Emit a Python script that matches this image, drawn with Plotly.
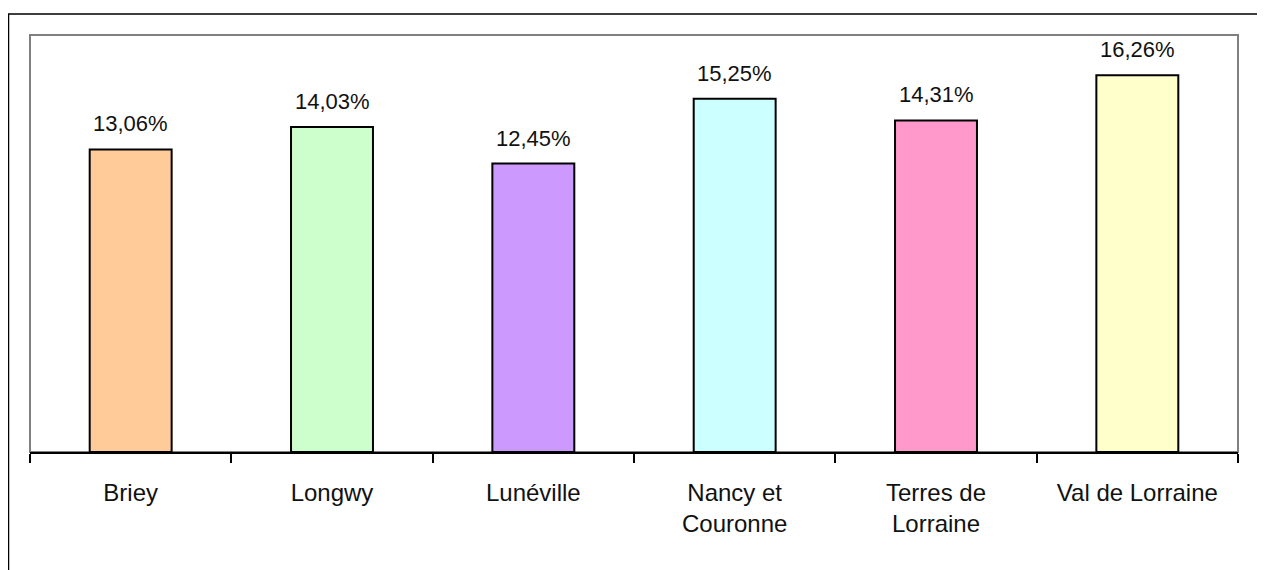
import plotly.graph_objects as go

categories = ["Briey", "Longwy", "Lunéville", "Nancy et<br>Couronne", "Terres de<br>Lorraine", "Val de Lorraine"]
values = [13.06, 14.03, 12.45, 15.25, 14.31, 16.26]
value_labels = ["13,06%", "14,03%", "12,45%", "15,25%", "14,31%", "16,26%"]
bar_colors = ["#FFCC99", "#CCFFCC", "#CC99FF", "#CCFFFF", "#FF99CC", "#FFFFCC"]

FONT = "Liberation Sans, Arial, sans-serif"

fig = go.Figure()
fig.add_trace(go.Bar(
    x=categories, y=values,
    marker=dict(color=bar_colors, line=dict(color="black", width=2)),
    hoverinfo="skip",
))

for c, v, t in zip(categories, values, value_labels):
    fig.add_annotation(x=c, y=v, text=t, showarrow=False, yanchor="bottom",
                       yshift=11, font=dict(family=FONT, size=22, color="#111"))

# plot area gray frame
fig.add_shape(type="rect", xref="paper", yref="paper", x0=0, x1=1, y0=0, y1=1,
              line=dict(color="#808080", width=2), layer="below")
# outer black frame (bottom edge lies below the visible page)
fig.add_shape(type="rect", xref="paper", yref="paper", x0=-0.0178, x1=1.0182,
              y0=-0.32, y1=1.0504, line=dict(color="black", width=1.5), layer="below")

fig.update_layout(
    width=1257, height=562,
    margin=dict(l=22, r=27, t=27, b=118),
    paper_bgcolor="white", plot_bgcolor="white",
    bargap=0.593, showlegend=False,
    font=dict(family=FONT, size=24, color="#111"),
    xaxis=dict(showline=True, linecolor="black", linewidth=1.5,
               ticks="outside", tickson="boundaries", ticklen=9, tickcolor="black",
               tickwidth=1.5, showgrid=False, tickfont=dict(family=FONT, size=24, color="#111"),
               ticklabelstandoff=18),
    yaxis=dict(range=[0, 18], showgrid=False, showticklabels=False, zeroline=False,
               showline=False, ticks=""),
)

fig.write_html("out.html")
